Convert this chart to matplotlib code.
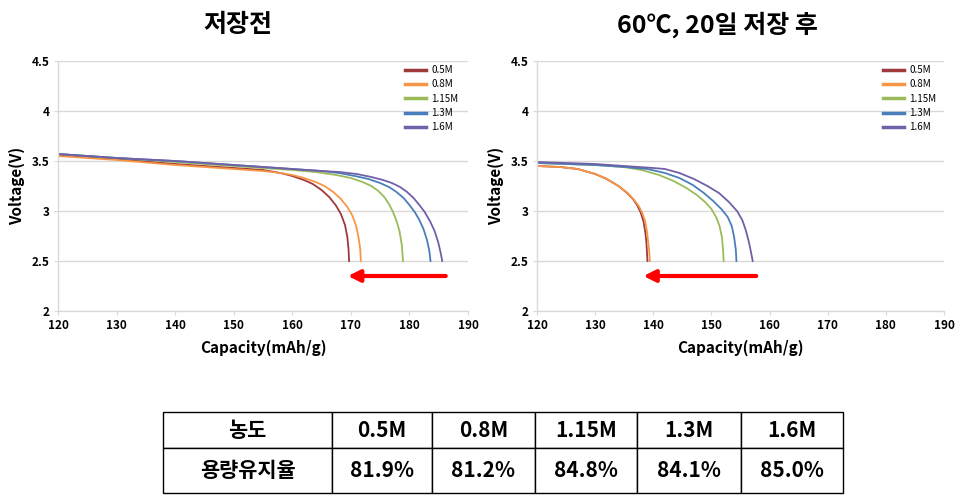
import matplotlib.pyplot as plt
from matplotlib.ticker import FixedLocator

plt.rcParams['font.family'] = ['Noto Sans CJK KR', 'DejaVu Sans']
plt.rcParams['font.weight'] = 'bold'

series = ["0.5M", "0.8M", "1.15M", "1.3M", "1.6M"]
colors = ["#A0393A", "#F79646", "#9BBB59", "#4A7EBB", "#7060A8"]

# before storage
before_x = [
    [120, 130, 140, 150, 155, 158, 160, 162, 163.5, 165, 166.3, 167.4, 168.3, 169, 169.4, 169.6, 169.7],
    [120, 130, 140, 150, 155, 158, 160, 162, 164, 165.5, 167, 168.3, 169.4, 170.3, 170.9, 171.3, 171.6, 171.7],
    [120, 130, 140, 150, 160, 164, 167.5, 170, 172, 173.5, 174.7, 175.7, 176.5, 177.2, 177.8, 178.3, 178.7, 178.9],
    [120, 130, 140, 150, 160, 165, 168, 170.7, 173, 175, 176.5, 177.8, 179, 180, 180.9, 181.7, 182.4, 183, 183.4, 183.6],
    [120, 130, 140, 150, 160, 165, 168, 171, 173.5, 175.5, 177, 178.4, 179.6, 180.7, 181.7, 182.6, 183.5, 184.3, 184.9, 185.3, 185.6],
]
before_y = [
    [3.56, 3.52, 3.47, 3.43, 3.41, 3.38, 3.35, 3.31, 3.27, 3.21, 3.14, 3.06, 2.97, 2.86, 2.74, 2.62, 2.5],
    [3.55, 3.51, 3.46, 3.42, 3.40, 3.38, 3.36, 3.33, 3.29, 3.25, 3.19, 3.12, 3.04, 2.95, 2.85, 2.74, 2.62, 2.5],
    [3.57, 3.53, 3.49, 3.45, 3.41, 3.39, 3.36, 3.33, 3.29, 3.25, 3.2, 3.14, 3.07, 2.99, 2.9, 2.8, 2.66, 2.5],
    [3.57, 3.53, 3.5, 3.46, 3.42, 3.40, 3.38, 3.35, 3.32, 3.28, 3.24, 3.19, 3.13, 3.06, 2.99, 2.91, 2.82, 2.71, 2.6, 2.5],
    [3.57, 3.53, 3.5, 3.46, 3.42, 3.40, 3.39, 3.37, 3.34, 3.31, 3.28, 3.24, 3.19, 3.13, 3.06, 2.99, 2.9, 2.8, 2.69, 2.59, 2.5],
]

# after 20 days at 60C
after_x = [
    [120, 124, 127, 130, 132, 134, 135.5, 136.5, 137.2, 137.8, 138.3, 138.6, 138.8, 138.9, 139.0],
    [120, 124, 127, 130, 132, 134, 135.6, 136.7, 137.5, 138.1, 138.6, 138.9, 139.1, 139.3, 139.4],
    [120, 130, 135, 138, 141, 143.5, 145.7, 147.5, 148.9, 150, 150.8, 151.4, 151.8, 152.0, 152.1],
    [120, 130, 135, 139, 142, 144.5, 146.8, 148.7, 150.3, 151.7, 152.8, 153.5, 153.9, 154.2, 154.3],
    [120, 130, 135, 140, 142, 144.5, 147, 149.3, 151.3, 153, 154.4, 155.3, 155.9, 156.4, 156.8, 157.1],
]
after_y = [
    [3.45, 3.44, 3.42, 3.37, 3.32, 3.25, 3.18, 3.12, 3.06, 2.99, 2.9, 2.8, 2.7, 2.6, 2.5],
    [3.45, 3.44, 3.42, 3.37, 3.32, 3.25, 3.18, 3.11, 3.05, 2.98, 2.9, 2.8, 2.7, 2.6, 2.5],
    [3.48, 3.46, 3.44, 3.41, 3.36, 3.3, 3.23, 3.16, 3.09, 3.02, 2.94, 2.85, 2.74, 2.61, 2.5],
    [3.48, 3.46, 3.44, 3.42, 3.38, 3.33, 3.26, 3.18, 3.1, 3.02, 2.94, 2.85, 2.74, 2.61, 2.5],
    [3.49, 3.47, 3.45, 3.43, 3.42, 3.38, 3.32, 3.25, 3.18, 3.09, 3.0, 2.91, 2.81, 2.7, 2.59, 2.5],
]

titles = ["저장전", "60℃, 20일 저장 후"]
title_x = [238, 717]
arrows = [(186.2, 169.5), (157.7, 138.3)]
arrow_v = 2.35

xticks = [120, 130, 140, 150, 160, 170, 180, 190]
yticks = [2, 2.5, 3, 3.5, 4, 4.5]
ytick_labels = ["2", "2.5", "3", "3.5", "4", "4.5"]

table_head = ["농도", "0.5M", "0.8M", "1.15M", "1.3M", "1.6M"]
table_row = ["용량유지율", "81.9%", "81.2%", "84.8%", "84.1%", "85.0%"]

W, H = 961, 499
fig = plt.figure(figsize=(W / 100, H / 100), dpi=100)


def px_axes(l, t, r, b):
    return fig.add_axes([l / W, 1 - b / H, (r - l) / W, (b - t) / H])


grid_c = "#D9D9D9"
panels = [
    (px_axes(58, 61, 468, 311), before_x, before_y, (405, 65)),
    (px_axes(537, 61, 944, 311), after_x, after_y, (883, 65)),
]
for i, (ax, xs, ys, leg_pos) in enumerate(panels):
    for j in range(len(series)):
        ax.plot(xs[j], ys[j], color=colors[j], lw=1.3, label=series[j])
    ax.set_xlim(120, 190)
    ax.set_ylim(2, 4.5)
    ax.xaxis.set_major_locator(FixedLocator(xticks))
    ax.set_yticks(yticks, labels=ytick_labels)
    ax.grid(axis="y", color=grid_c, lw=1)
    ax.set_axisbelow(True)
    for s in ["top", "right"]:
        ax.spines[s].set_visible(False)
    for s in ["left", "bottom"]:
        ax.spines[s].set_color(grid_c)
        ax.spines[s].set_linewidth(1)
    ax.tick_params(axis="both", length=3, color=grid_c, labelsize=8.5, pad=3)
    ax.set_xlabel("Capacity(mAh/g)", fontsize=11, fontweight="bold", labelpad=5)
    ax.set_ylabel("Voltage(V)", fontsize=11, fontweight="bold", labelpad=5)
    fig.text(title_x[i] / W, 1 - 25 / H, titles[i], fontsize=18, fontweight="bold",
             ha="center", va="center")
    leg = ax.legend(loc="upper left", bbox_to_anchor=(leg_pos[0] / W, 1 - leg_pos[1] / H),
                    bbox_transform=fig.transFigure, frameon=False,
                    prop={"size": 7, "weight": "normal"},
                    handlelength=2.2, handletextpad=0.5, labelspacing=0.45,
                    borderaxespad=0, borderpad=0)
    for ln in leg.get_lines():
        ln.set_linewidth(2.5)
    tail, tip = arrows[i]
    ax.annotate("", xy=(tip, arrow_v), xytext=(tail, arrow_v),
                arrowprops=dict(arrowstyle="-|>,head_length=0.7,head_width=0.35",
                                color="#FF0000", lw=3, shrinkA=0, shrinkB=0),
                annotation_clip=False)

# table
tax = px_axes(163, 412, 843, 493)
tax.axis("off")
col_px = [169, 100, 103, 102, 104, 102]
col_w = [c / sum(col_px) for c in col_px]
tbl = tax.table(cellText=[table_head, table_row], colWidths=col_w,
                cellLoc="center", bbox=[0, 0, 1, 1])
tbl.auto_set_font_size(False)
for (r, c), cell in tbl.get_celld().items():
    cell.set_edgecolor("black")
    cell.set_linewidth(1)
    cell.set_height(0.45 if r == 0 else 0.55)
    cell.get_text().set_fontsize(15)
    cell.get_text().set_fontweight("bold")

fig.savefig("out.png", dpi=100)
